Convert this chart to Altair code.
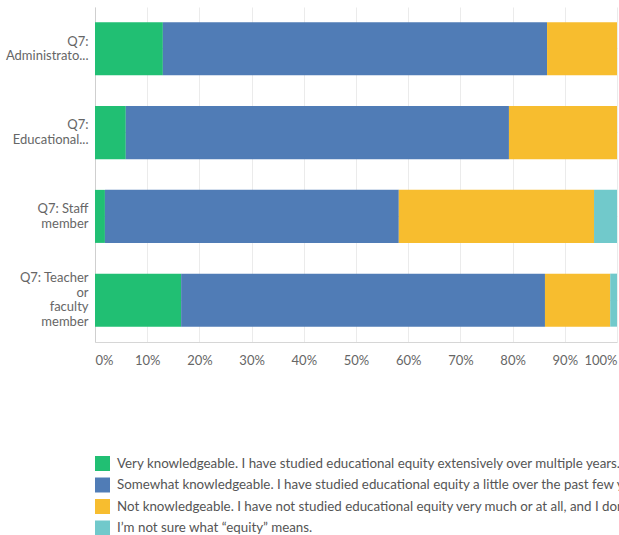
import altair as alt
import pandas as pd

groups = ["Q7:|Administrato...", "Q7:|Educational...", "Q7: Staff|member", "Q7: Teacher|or|faculty|member"]
responses = [
    "Very knowledgeable. I have studied educational equity extensively over multiple years.",
    "Somewhat knowledgeable. I have studied educational equity a little over the past few years.",
    "Not knowledgeable. I have not studied educational equity very much or at all, and I don't know much about it.",
    "I\u2019m not sure what \u201cequity\u201d means.",
]
very = [13.0, 5.9, 1.9, 16.5]
somewhat = [73.6, 73.4, 56.3, 69.7]
notk = [13.4, 20.7, 37.4, 12.5]
unsure = [0.0, 0.0, 4.4, 1.3]
colors = ["#21bf73", "#507cb6", "#f7bd2f", "#71c9cb"]

rows = []
for i, g in enumerate(groups):
    for j, vals in enumerate([very, somewhat, notk, unsure]):
        rows.append({"group": g, "response": responses[j], "value": vals[i], "order": j})
df = pd.DataFrame(rows)

font = "Lato"
lh = 14.5
chart = alt.Chart(df).mark_bar().encode(
    y=alt.Y("group:N", sort=groups,
            scale=alt.Scale(paddingInner=0.367, paddingOuter=0.183),
            axis=alt.Axis(title=None, labelExpr="split(datum.label, '|')", labelFontSize=13,
                          labelColor="#666666", labelFont=font, labelPadding=7, ticks=False,
                          domainColor="#cfcfcf", labelLineHeight=lh, labelLimit=200,
                          labelOffset={"condition": {"test": "indexof(datum.label, 'faculty') >= 0",
                                                     "value": -1.5 * lh},
                                       "value": -0.5 * lh})),
    x=alt.X("value:Q", stack=True,
            scale=alt.Scale(domain=[0, 100], nice=False),
            axis=alt.Axis(title=None, values=list(range(0, 101, 10)), labelExpr="datum.value + '%'",
                          labelFlush=True, labelFontSize=13, labelColor="#666666", labelFont=font,
                          labelPadding=12, ticks=False, domainColor="#d6d6d6", gridColor="#ebebeb")),
    color=alt.Color("response:N", sort=responses,
                    scale=alt.Scale(domain=responses, range=colors),
                    legend=alt.Legend(title=None, orient="none", legendX=0, legendY=449,
                                      direction="vertical", symbolType="square", symbolSize=225,
                                      symbolStrokeWidth=0, symbolOpacity=1, rowPadding=6.5,
                                      labelFontSize=13.35, labelColor="#555555", labelFont=font,
                                      labelLimit=1000, labelOffset=7)),
    order=alt.Order("order:Q"),
).properties(
    width=522, height=335,
    autosize=alt.AutoSizeParams(type="none"),
    padding={"left": 95, "top": 7, "right": 2, "bottom": 193},
).configure_view(stroke=None).configure_axis(grid=True)

chart.save("out.html", embed_options={"renderer": "svg", "actions": False})
